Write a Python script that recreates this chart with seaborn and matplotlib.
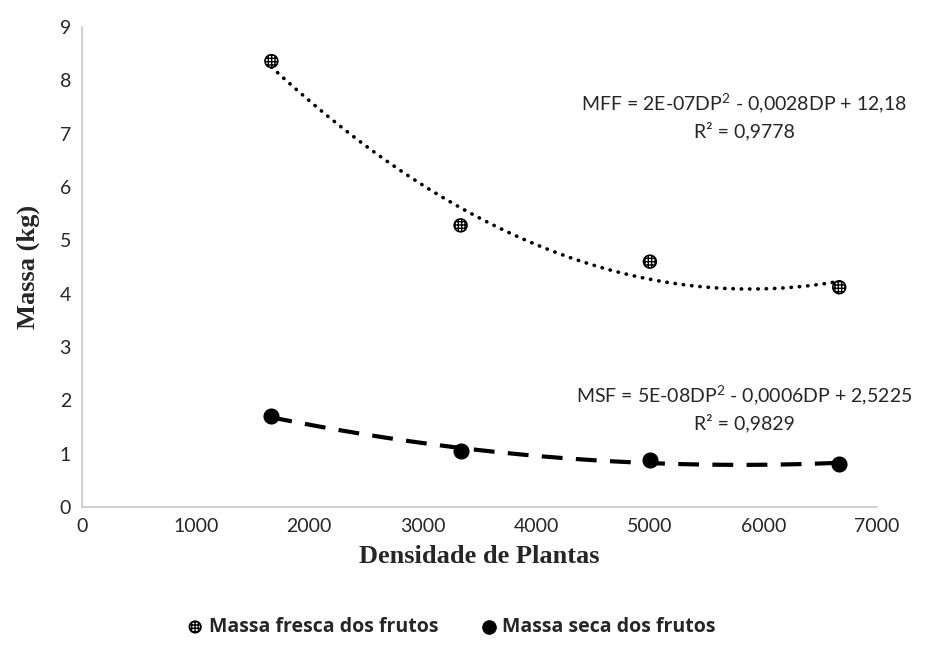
import numpy as np
import pandas as pd
import seaborn as sns
import matplotlib.pyplot as plt

# data
densidade = [1667, 3333, 5000, 6667]
massa_fresca = [8.36, 5.28, 4.60, 4.12]
massa_seca = [1.70, 1.05, 0.88, 0.81]

eq_mff = "MFF = 2E-07DP$^{2}$ - 0,0028DP + 12,18\nR² = 0,9778"
eq_msf = "MSF = 5E-08DP$^{2}$ - 0,0006DP + 2,5225\nR² = 0,9829"

df = pd.DataFrame({"DP": densidade, "MFF": massa_fresca, "MSF": massa_seca})

sns.set_style("white")
plt.rcParams['font.family'] = ['Lato', 'DejaVu Sans']
plt.rcParams['mathtext.fontset'] = 'custom'
plt.rcParams['mathtext.rm'] = 'Lato'

fig = plt.figure(figsize=(9.33, 6.58), dpi=100)
ax = fig.add_axes([0.088, 0.2295, 0.852, 0.7295])

# trendlines (2nd order polynomial)
x_line = np.linspace(min(df["DP"]), max(df["DP"]), 200)
c1 = np.polyfit(df["DP"], df["MFF"], 2)
c2 = np.polyfit(df["DP"], df["MSF"], 2)
ax.plot(x_line, np.polyval(c1, x_line), color='black', linewidth=2.6,
        linestyle=(0, (0.1, 2.2)), dash_capstyle='round', zorder=1)
ax.plot(x_line, np.polyval(c2, x_line), color='black', linewidth=3,
        linestyle=(0, (5, 3.2)), zorder=1)

sns.scatterplot(data=df, x="DP", y="MFF", ax=ax, marker='o', s=85,
                facecolor='white', edgecolor='black', linewidth=1.2,
                hatch='+++++', zorder=3, label="Massa fresca dos frutos")
sns.scatterplot(data=df, x="DP", y="MSF", ax=ax, marker='o', s=115,
                color='black', edgecolor='black', zorder=3,
                label="Massa seca dos frutos")

ax.text(5830, 7.33, eq_mff, ha='center', va='center', fontsize=14, linespacing=1.35)
ax.text(5830, 1.85, eq_msf, ha='center', va='center', fontsize=14, linespacing=1.35)

ax.set_xlim(0, 7000)
ax.set_ylim(0, 9)
ax.set_xticks(range(0, 7001, 1000))
ax.set_yticks(range(0, 10))
ax.tick_params(axis='both', labelsize=14, length=0, pad=8)

for s in ['top', 'right']:
    ax.spines[s].set_visible(False)
for s in ['bottom', 'left']:
    ax.spines[s].set_color('#c8c8c8')
    ax.spines[s].set_linewidth(1.2)

ax.set_xlabel("Densidade de Plantas", fontsize=19, fontweight='bold',
              family='Liberation Serif', labelpad=7)
ax.set_ylabel("Massa (kg)", fontsize=19, fontweight='bold',
              family='Liberation Serif', labelpad=14)

handles, labels = ax.get_legend_handles_labels()
ax.get_legend().remove()
fig.legend(handles, labels, loc='center', bbox_to_anchor=(0.482, 0.047), ncol=2,
           frameon=False, prop={'family': 'Open Sans', 'weight': 'bold', 'size': 14},
           handletextpad=0.1, columnspacing=2.0, handlelength=1.2, markerscale=0.9)

fig.savefig("out.png", dpi=100)
